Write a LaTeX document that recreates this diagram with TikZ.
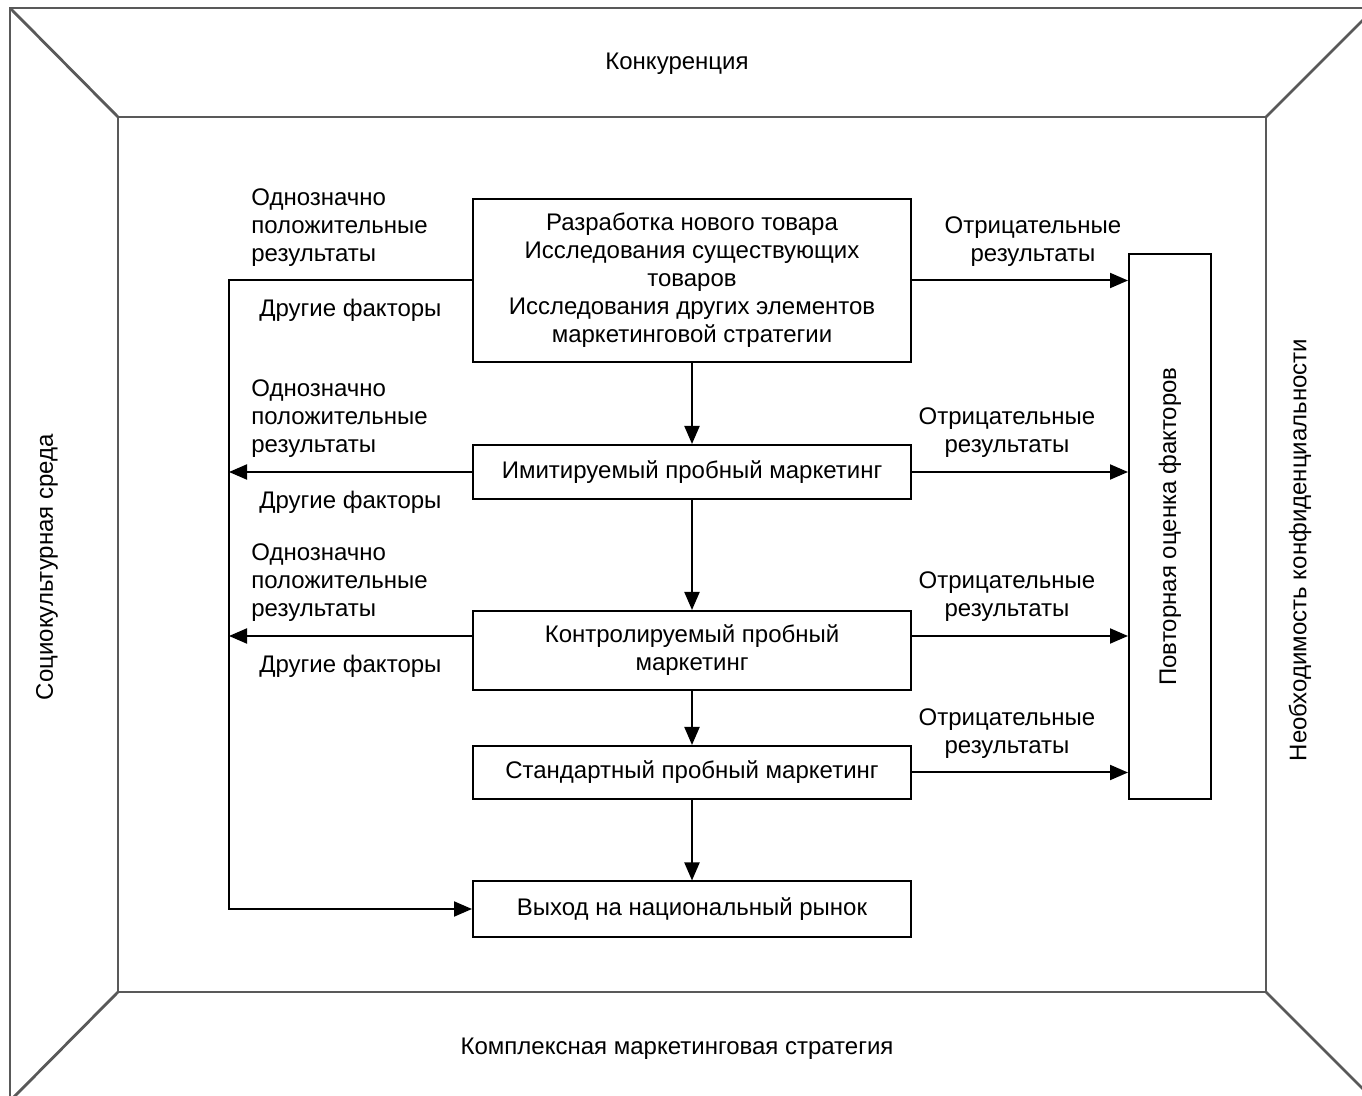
\documentclass[tikz,border=0pt]{standalone}
\usepackage{fontspec}
\setmainfont{Liberation Sans}
\usetikzlibrary{arrows.meta}

\begin{document}
\begin{tikzpicture}[x=0.5pt,y=-0.5pt,
		font=\fontsize{12}{14}\selectfont,
		frameline/.style={draw=black!65, line width=1.4pt},
		stagebox/.style={draw, line width=1pt, align=center, minimum width=219pt, inner sep=2pt},
		flow/.style={line width=1pt, -{Triangle[length=9pt,width=7.5pt]}},
		lbl/.style={align=left, inner sep=0pt, anchor=west},
		rlbl/.style={align=center, inner sep=0pt}]
			\useasboundingbox (0,0) rectangle (1362,1096);
			\begin{scope}
				\clip (0,0) rectangle (1362,1096);
				\draw[frameline] (10,8) rectangle (1375,1101);
				\draw[frameline] (118,117) rectangle (1266,992);
				\draw[frameline] (10,8) -- (118,117);
				\draw[frameline] (1375,8) -- (1266,117);
				\draw[frameline] (10,1101) -- (118,992);
				\draw[frameline] (1375,1101) -- (1266,992);
			\end{scope}
			\node (konk) at (677,64) {Конкуренция};
			\node (kompl) at (677,1049) {Комплексная маркетинговая стратегия};
			\node[rotate=90] (socio) at (47,567) {Социокультурная среда};
			\node[rotate=90] (neobh) at (1300,550) {Необходимость конфиденциальности};
			\node[stagebox, minimum height=81.5pt] (razr) at (692,280.5) {Разработка нового товара\\Исследования существующих\\товаров\\Исследования других элементов\\маркетинговой стратегии};
			\node[stagebox, minimum height=27pt] (imit) at (692,472) {Имитируемый пробный маркетинг};
			\node[stagebox, minimum height=39.5pt] (kontr) at (692,650.5) {Контролируемый пробный\\маркетинг};
			\node[stagebox, minimum height=26.5pt] (stand) at (692,772.5) {Стандартный пробный маркетинг};
			\node[stagebox, minimum height=27.5pt] (vyhod) at (692,909) {Выход на национальный рынок};
			\node[draw, line width=1pt, rotate=90, minimum width=272.5pt, minimum height=41pt] (povtor) at (1170,526.5) {Повторная оценка факторов};
			\coordinate (lverh) at (229,280.5);
			\coordinate (lniz) at (229,909);
			\draw[flow] (razr) -- (imit);
			\draw[flow] (imit) -- (kontr);
			\draw[flow] (kontr) -- (stand);
			\draw[flow] (stand) -- (vyhod);
			\draw[flow] (razr.east) -- (razr.east -| povtor.north);
			\draw[flow] (imit.east) -- (imit.east -| povtor.north);
			\draw[flow] ([yshift=7.25pt]kontr.east) -- ([yshift=7.25pt]kontr.east -| povtor.north);
			\draw[flow] (stand.east) -- (stand.east -| povtor.north);
			\draw[flow] (razr.west) -- (lverh) -- (lniz) -- (vyhod.west);
			\draw[flow] (imit.west) -- (imit.west -| lverh);
			\draw[flow] ([yshift=7.25pt]kontr.west) -- ([yshift=7.25pt]kontr.west -| lverh);
			\node[lbl] (odn1) at (251,228) {Однозначно\\положительные\\результаты};
			\node[lbl] (odn2) at (251,418.5) {Однозначно\\положительные\\результаты};
			\node[lbl] (odn3) at (251,582.5) {Однозначно\\положительные\\результаты};
			\node[lbl] (dr1) at (259,310) {Другие факторы};
			\node[lbl] (dr2) at (259,502) {Другие факторы};
			\node[lbl] (dr3) at (259,666) {Другие факторы};
			\node[rlbl] (otr1) at (1033,242) {Отрицательные\\результаты};
			\node[rlbl] (otr2) at (1007,433) {Отрицательные\\результаты};
			\node[rlbl] (otr3) at (1007,597) {Отрицательные\\результаты};
			\node[rlbl] (otr4) at (1007,734) {Отрицательные\\результаты};
		\end{tikzpicture}
\end{document}
